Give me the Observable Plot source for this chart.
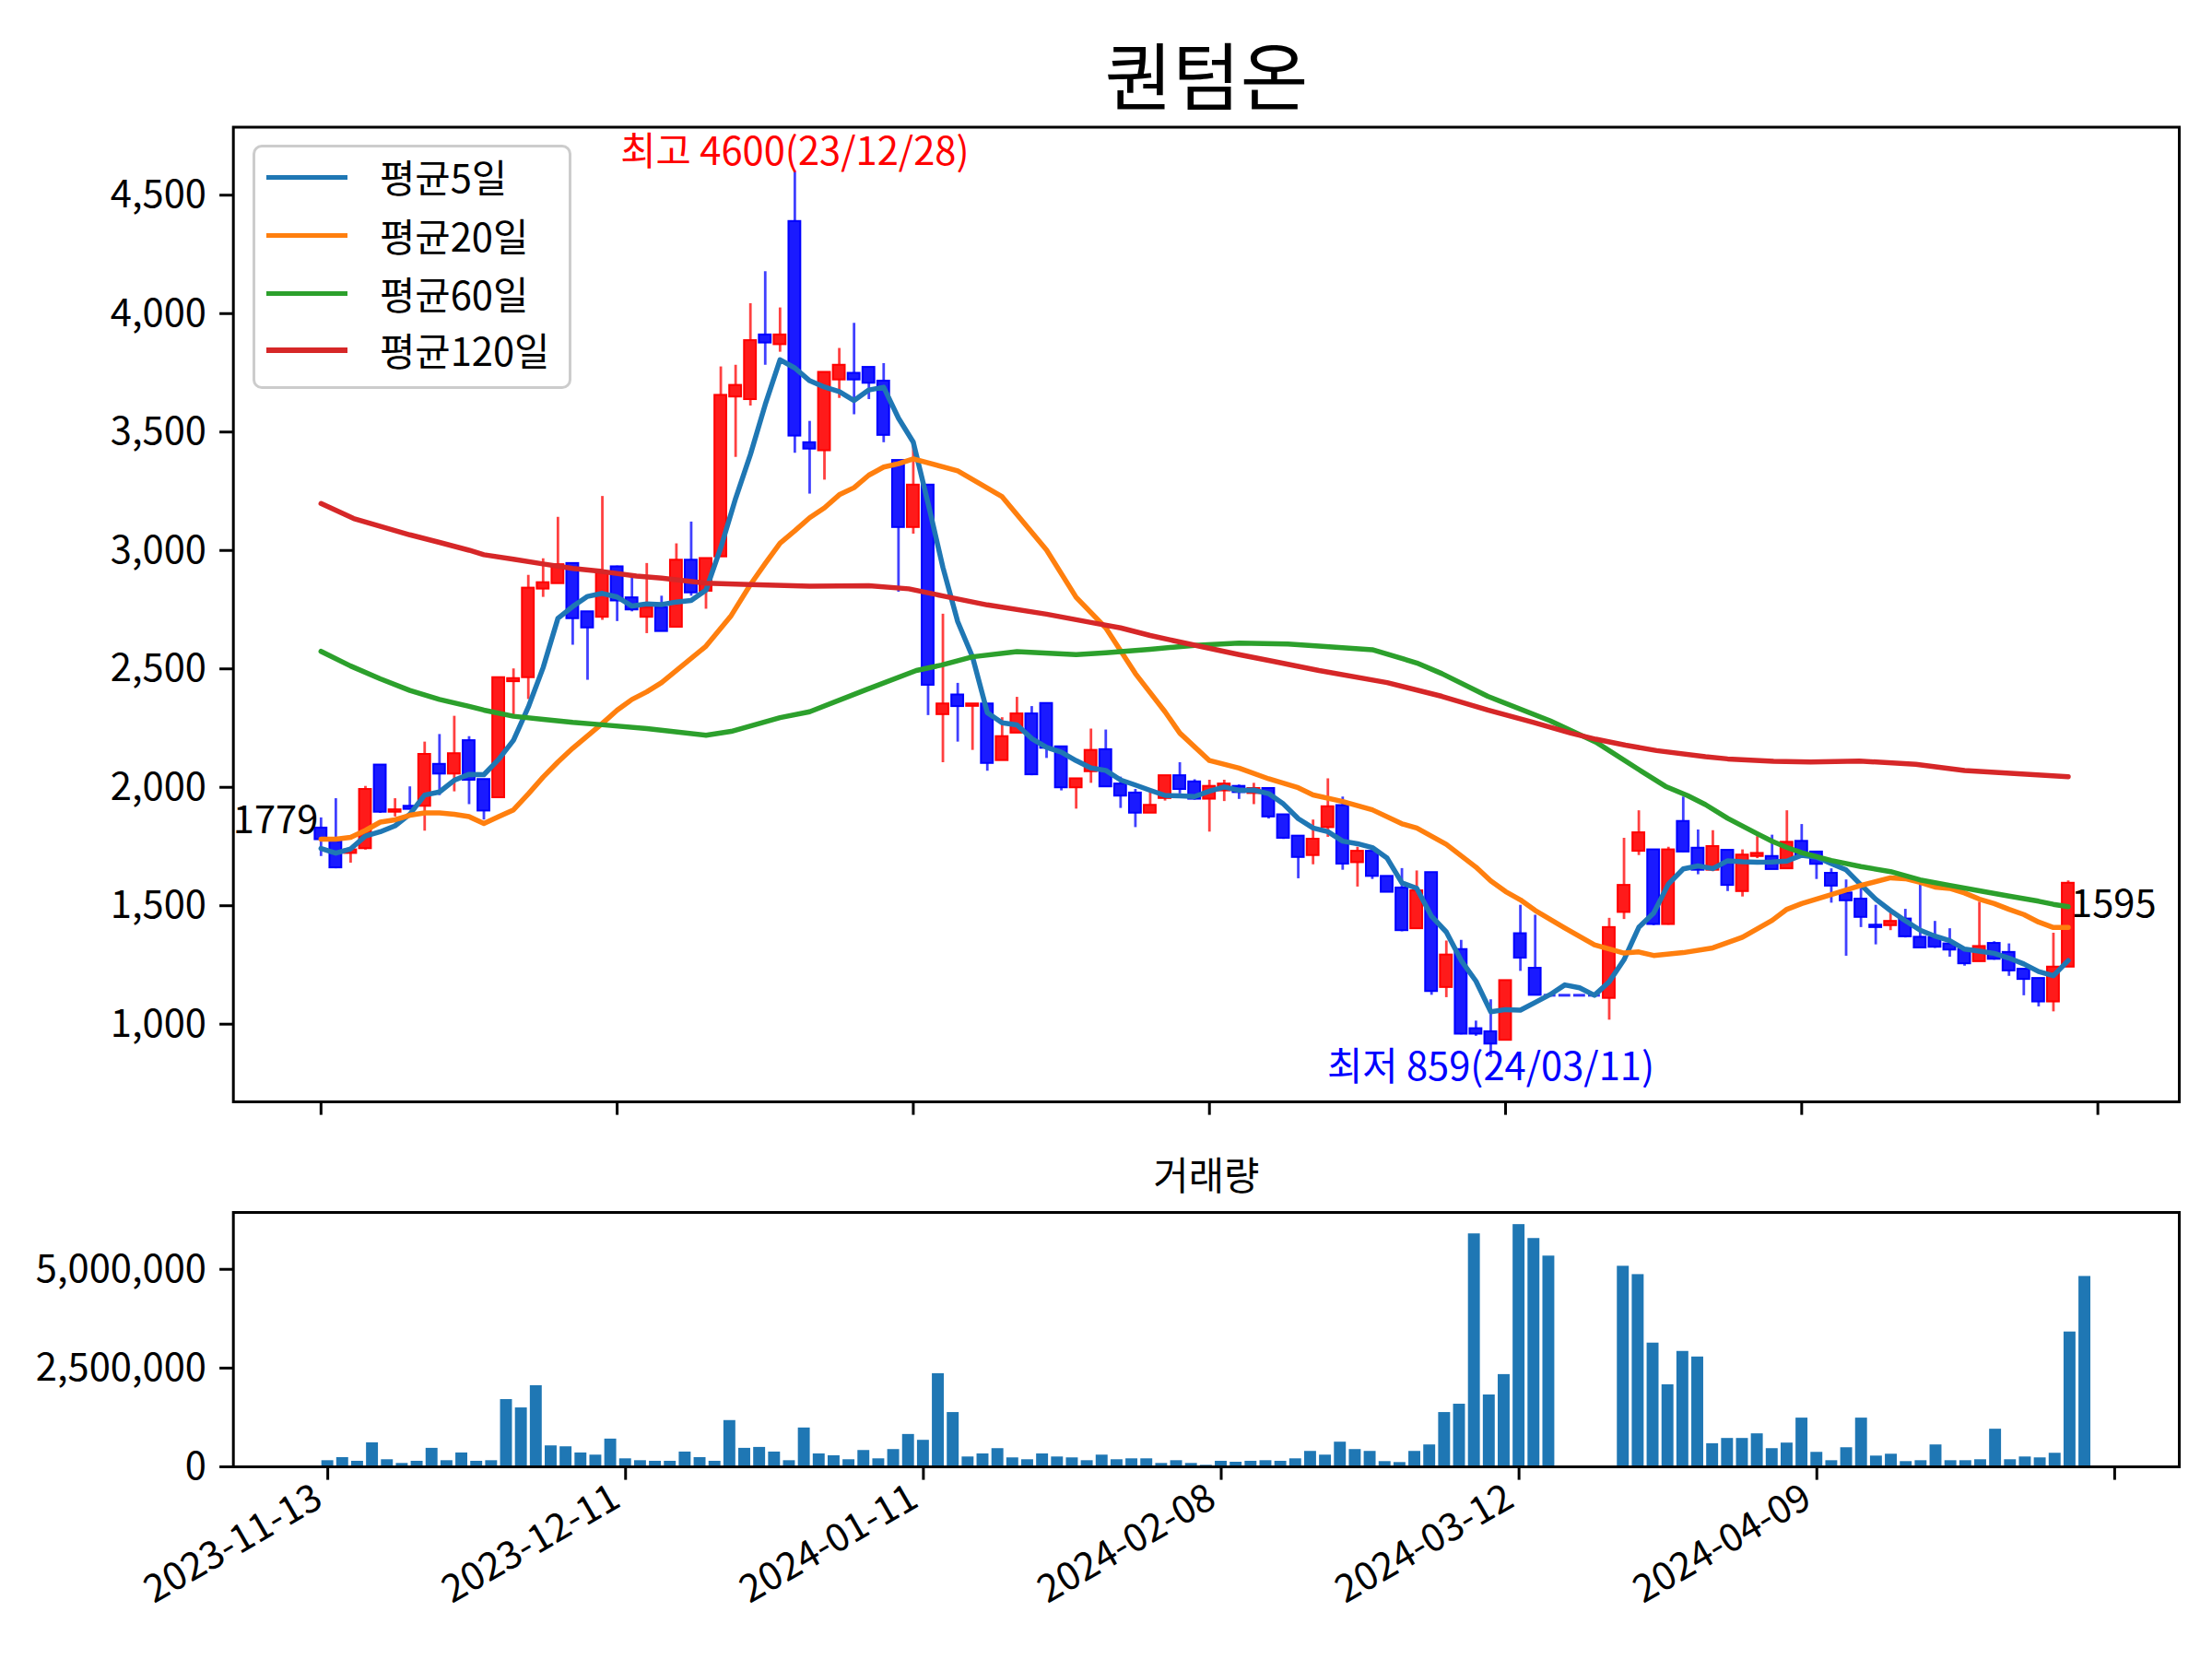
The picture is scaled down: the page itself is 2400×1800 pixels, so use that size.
<!DOCTYPE html>
<html>
<head>
<meta charset="utf-8">
<script src="https://cdn.jsdelivr.net/npm/d3@7"></script>
<script src="https://cdn.jsdelivr.net/npm/@observablehq/plot@0.6"></script>
<style>
  html, body { margin: 0; padding: 0; background: #ffffff; }
  #fig { position: relative; width: 2400px; height: 1800px; background: #ffffff; overflow: hidden;
         font-family: "Noto Sans CJK KR", "Noto Sans", sans-serif; }
  #fig svg { position: absolute; left: 0; max-width: none; }
  #legend { position: absolute; left: 274px; top: 157px; width: 346px; height: 265px; box-sizing: border-box;
            border: 3px solid #cccccc; border-radius: 10px; background: rgba(255,255,255,0.8); }
  .lg-row { position: absolute; left: 12px; height: 50px; display: flex; align-items: center; }
  .lg-line { width: 88px; height: 5.5px; }
  .lg-text { margin-left: 35px; font-size: 41.7px; line-height: 1; color: #000; white-space: nowrap; }
</style>
</head>
<body>
<div id="fig"></div>
<script>
// ---------------- data ----------------
const title = "퀀텀온";
const volumeTitle = "거래량";
const seriesNames = ["평균5일", "평균20일", "평균60일", "평균120일"];
const seriesColors = ["#1f77b4", "#ff7f0e", "#2ca02c", "#d62728"];
const xTicks = [0, 20, 40, 60, 80, 100, 120];
const xTickLabels = ["2023-11-13", "2023-12-11", "2024-01-11", "2024-02-08", "2024-03-12", "2024-04-09", ""];
const yTicks = [1000, 1500, 2000, 2500, 3000, 3500, 4000, 4500];
const volTicks = [0, 2500000, 5000000];
const maxLabel = "최고 4600(23/12/28)";
const minLabel = "최저 859(24/03/11)";

const open = [1828,1772,1721,1741,2094,1895,1920,1920,2097,2056, 2197,2033,1956,2446,2463,2837,2860,2945,2741,2718,
  2931,2800,2718,2759,2676,2959,2828,2973,3648,3637, 3910,3869,4389,3455,3421,3720,3748,3773,3715,3380,
  3097,3276,2307,2390,2342,2352,2113,2229,2310,2354, 2171,1998,2066,2159,2014,1976,1891,1953,2049,2023,
  1950,1985,2004,1974,1995,1884,1794,1712,1830,1923, 1682,1730,1624,1575,1403,1640,1155,1315,981,968,
  932,1382,1236,1122,1122,1122,1122,1109,1472,1730, 1736,1421,1856,1743,1650,1734,1560,1708,1708,1656,
  1772,1727,1637,1554,1528,1418,1416,1444,1367,1365, 1339,1315,1264,1341,1303,1232,1193,1094,1241];
const high = [1871,1952,1741,2004,2094,1952,2002,2191,2223,2300, 2214,2033,2463,2500,2895,2965,3140,2945,2741,3228,
  2934,2883,2945,2807,3028,3120,2966,3775,3782,4042, 4177,4024,4600,3545,3752,3853,3959,3773,3789,3380,
  3442,3276,2731,2439,2352,2352,2294,2380,2341,2354, 2171,2036,2246,2242,2043,1991,1978,2049,2104,2032,
  2030,2030,2010,2017,1995,1884,1794,1862,2036,1959, 1747,1730,1624,1657,1647,1640,1351,1354,1013,1103,
  1184,1502,1460,1122,1122,1122,1122,1447,1785,1901, 1736,1747,1959,1820,1817,1734,1736,1792,1798,1901,
  1843,1727,1656,1609,1573,1502,1470,1485,1605,1434, 1403,1315,1515,1348,1339,1232,1193,1384,1605];
const low = [1708,1656,1680,1735,1890,1875,1905,1815,1965,1981, 1927,1862,1956,2306,2371,2802,2860,2600,2452,2705,
  2700,2741,2649,2658,2676,2807,2752,2973,3393,3610, 3782,3837,3410,3238,3297,3642,3573,3637,3455,2824,
  3069,2303,2104,2191,2156,2068,2113,2229,2049,2122, 1985,1908,2017,2002,1911,1830,1891,1942,1972,1946,
  1811,1940,1949,1927,1866,1780,1614,1673,1789,1650, 1579,1611,1557,1390,1403,1122,1112,955,949,859,
  932,1223,1122,1122,1122,1122,1122,1017,1442,1712, 1416,1418,1725,1631,1644,1560,1537,1699,1653,1656,
  1705,1611,1511,1287,1408,1335,1395,1364,1322,1320, 1283,1245,1264,1270,1202,1120,1073,1052,1241];
const close = [1779,1660,1736,1991,1895,1905,1907,2139,2056,2142, 2030,1900,2463,2459,2841,2864,2940,2712,2673,2905,
  2787,2749,2759,2658,2959,2821,2966,3655,3697,3886, 3876,3910,3483,3428,3752,3782,3720,3706,3486,3097,
  3276,2431,2352,2341,2352,2101,2214,2310,2053,2165, 1998,2036,2156,2002,1963,1891,1924,2049,1991,1950,
  2004,2014,1978,1995,1875,1785,1704,1781,1918,1676, 1730,1624,1557,1395,1563,1138,1292,958,958,916,
  1184,1279,1122,1122,1122,1122,1122,1408,1586,1808, 1421,1736,1727,1650,1750,1586,1714,1721,1653,1768,
  1710,1675,1583,1521,1451,1408,1434,1369,1322,1325, 1313,1255,1328,1274,1225,1189,1094,1241,1595];
const volume = [156000,234000,141000,609000,180000,86000,141000,469000,156000,352000,
  141000,156000,1703000,1492000,2055000,531000,508000,352000,297000,703000,
  203000,156000,141000,141000,375000,234000,141000,1172000,469000,492000,
  375000,156000,984000,328000,281000,180000,414000,203000,438000,820000,
  672000,2359000,1375000,250000,328000,461000,227000,180000,328000,250000,
  227000,156000,297000,180000,203000,203000,86000,156000,86000,39000,
  141000,117000,141000,156000,141000,203000,391000,297000,625000,438000,
  391000,133000,109000,391000,555000,1375000,1586000,5898000,1820000,2336000,
  6133000,5781000,5336000,0,0,0,0,5078000,4867000,3133000,
  2078000,2922000,2781000,586000,719000,719000,836000,461000,602000,1234000,
  367000,156000,484000,1234000,273000,320000,133000,156000,555000,156000,
  156000,180000,953000,180000,250000,227000,344000,3414000,4820000];

// moving averages ([trading-day index, value])
const ma5Head = [1742, 1722, 1740, 1794];
const ma20 = [[0,1781],[1,1781],[2,1789],[3,1818],[4,1853],[5,1863],[6,1882],[7,1892],[8,1892],[9,1886],[10,1876],
  [11,1847],[12,1876],[13,1905],[14,1972],[15,2043],[16,2107],[17,2165],[18,2217],[19,2270],[20,2326],[21,2371],
  [22,2403],[23,2442],[26,2596],[27.7,2725],[29,2856],[30,2945],[31,3031],[32,3083],[33,3138],[34,3180],[35,3235],
  [36,3265],[37,3318],[38,3352],[39,3366],[40,3387],[43,3336],[46,3227],[49,3002],[51,2802],[53,2673],[55,2480],
  [57,2319],[58,2229],[60,2113],[62,2081],[64,2036],[66,1998],[67,1968],[69,1940],[71,1905],[73,1846],[74,1828],
  [76,1759],[78,1663],[79,1605],[80,1560],[81,1525],[82,1480],[84,1406],[86,1335],[88,1300],[89,1305],[90,1290],
  [92,1302],[94,1322],[96,1367],[98,1438],[99,1485],[100,1509],[102,1547],[104,1586],[106,1618],[107,1614],
  [108,1599],[109,1579],[110,1573],[111,1554],[112,1528],[113,1509],[114,1485],[115,1463],[116,1431],[117,1408],[118,1408]];
const ma60 = [[0,2574],[2,2512],[4,2458],[6,2409],[8,2371],[10,2342],[11,2326],[13,2300],[15,2287],[17,2274],
  [19,2264],[22,2248],[26,2220],[27.7,2236],[31,2294],[33,2319],[36.8,2412],[40.2,2493],[41.9,2516],[44,2551],
  [47,2573],[51,2560],[53,2568],[56,2583],[59,2599],[62,2609],[65.3,2605],[67.4,2596],[71,2581],[74,2525],
  [75.7,2480],[78.8,2384],[83,2281],[86.1,2191],[89,2075],[90.8,2004],[92.3,1965],[93.5,1927],[95,1869],
  [97,1804],[98,1772],[99,1746],[100,1724],[102,1691],[104,1665],[106,1644],[108,1609],[110,1586],[112,1563],
  [114,1541],[116,1519],[117,1506],[118,1496]];
const ma120 = [[0,3198],[2.2,3135],[6,3066],[8,3034],[10,3001],[11,2982],[13,2963],[15,2943],[17,2924],[19,2911],
  [21.3,2892],[23,2883],[26,2862],[29,2856],[33,2849],[37,2851],[39.7,2838],[42,2808],[45,2770],[49,2731],
  [52,2696],[54,2673],[56,2641],[59,2600],[62,2560],[64.3,2532],[67.4,2493],[72,2442],[75.7,2384],[78.8,2326],
  [81.9,2274],[84.4,2229],[86.1,2203],[88.1,2178],[90.2,2155],[93.5,2129],[95,2120],[98.1,2110],[100.6,2107],
  [103.9,2111],[107.7,2097],[111,2071],[114.1,2059],[118,2045]];

// ---------------- derived tables ----------------
const FONT = '"Noto Sans CJK KR", "Noto Sans", sans-serif';
const candles = close.map((c, i) => ({i, open: open[i], high: high[i], low: low[i], close: c, up: c > open[i]}));
const bodies = candles.filter(d => d.open !== d.close);
const flats = candles.filter(d => d.open === d.close);
const ma5 = close.map((c, i) => [i, i < 4 ? ma5Head[i] : d3.mean(close.slice(i - 4, i + 1))]);
const vols = volume.map((v, i) => ({i, v})).filter(d => d.v > 0);
const maxIdx = d3.maxIndex(high), minIdx = d3.minIndex(low);
const firstC = {i: 0, v: close[0], t: String(close[0])};
const lastC = {i: close.length - 1, v: close[close.length - 1], t: String(close[close.length - 1])};
const fmt = d3.format(",");

const bodyFill = d => d.up ? "#ff1a1a" : "#1a1aff";
const bodyEdge = d => d.up ? "#ff0000" : "#0000ff";
const wickCol = d => d.up ? "#ff4040" : "#4040ff";

const fig = document.getElementById("fig");

// ---------------- price panel ----------------
const priceSvg = Plot.plot({
  width: 2400, height: 1240,
  marginLeft: 252.7, marginRight: 36, marginTop: 137.5, marginBottom: 45,
  style: {fontSize: "41.7px", fontFamily: FONT, background: "transparent", color: "#000", overflow: "visible"},
  x: {domain: [-5.92, 125.5]},
  y: {domain: [672, 4787]},
  marks: [
    Plot.ruleX(candles, {x: "i", y1: "low", y2: "high", stroke: wickCol, strokeWidth: 2.8}),
    Plot.rect(bodies, {x1: d => d.i - 0.4, x2: d => d.i + 0.4, y1: "open", y2: "close",
      fill: bodyFill, stroke: bodyEdge, strokeWidth: 2}),
    Plot.ruleY(flats, {x1: d => d.i - 0.4, x2: d => d.i + 0.4, y: "close", stroke: "#3030ff", strokeWidth: 3}),
    Plot.line(ma5, {x: d => d[0], y: d => d[1], stroke: seriesColors[0], strokeWidth: 5.5}),
    Plot.line(ma20, {x: d => d[0], y: d => d[1], stroke: seriesColors[1], strokeWidth: 5.5}),
    Plot.line(ma60, {x: d => d[0], y: d => d[1], stroke: seriesColors[2], strokeWidth: 5.5}),
    Plot.line(ma120, {x: d => d[0], y: d => d[1], stroke: seriesColors[3], strokeWidth: 5.5}),
    Plot.text([{i: maxIdx, v: high[maxIdx]}], {x: "i", y: "v", text: () => maxLabel, fill: "#ff0000",
      textAnchor: "middle", lineAnchor: "bottom", dy: -7, fontSize: 41.7}),
    Plot.text([{i: minIdx, v: low[minIdx]}], {x: "i", y: "v", text: () => minLabel, fill: "#0000ff",
      textAnchor: "middle", lineAnchor: "bottom", dy: 25, fontSize: 41.7}),
    Plot.text([firstC], {x: "i", y: "v", text: "t", fill: "#000", textAnchor: "end", lineAnchor: "bottom",
      dx: -3, dy: -7.5, fontSize: 41.7}),
    Plot.text([lastC], {x: "i", y: "v", text: "t", fill: "#000", textAnchor: "start", lineAnchor: "bottom",
      dx: 3, dy: 37, fontSize: 41.7}),
    Plot.axisY({ticks: yTicks, tickFormat: fmt, tickSize: 14.6, tickPadding: 14.6, label: null, strokeWidth: 3, fontSize: 41.7}),
    Plot.axisX({ticks: xTicks, tickFormat: () => "", tickSize: 14.6, label: null, strokeWidth: 3}),
    Plot.frame({stroke: "#000", strokeWidth: 3}),
    Plot.text([title], {frameAnchor: "top", text: d => d, lineAnchor: "bottom", dy: -25, fontSize: 80, fill: "#000"})
  ]
});
priceSvg.style.top = "0px";
fig.appendChild(priceSvg);

// ---------------- volume panel ----------------
const volSvg = Plot.plot({
  width: 2400, height: 560,
  marginLeft: 252.7, marginRight: 36, marginTop: 75, marginBottom: 209,
  style: {fontSize: "41.7px", fontFamily: FONT, background: "transparent", color: "#000", overflow: "visible"},
  x: {domain: [-6.34, 124.34]},
  y: {domain: [0, 6440000]},
  marks: [
    Plot.rect(vols, {x1: d => d.i - 0.4, x2: d => d.i + 0.4, y1: () => 0, y2: "v", fill: "#1f77b4"}),
    Plot.axisY({ticks: volTicks, tickFormat: fmt, tickSize: 14.6, tickPadding: 14.6, label: null, strokeWidth: 3, fontSize: 41.7}),
    Plot.axisX({ticks: xTicks, tickFormat: () => "", tickSize: 14.6, label: null, strokeWidth: 3}),
    Plot.text(xTicks.map((t, j) => ({t, s: xTickLabels[j]})).filter(d => d.s), {
      x: "t", y: () => 0, text: "s", rotate: -30, textAnchor: "end", lineAnchor: "top",
      dx: -18, dy: 16, fontSize: 41.7, fill: "#000"}),
    Plot.frame({stroke: "#000", strokeWidth: 3}),
    Plot.text([volumeTitle], {frameAnchor: "top", text: d => d, lineAnchor: "bottom", dy: -25, fontSize: 41.7, fill: "#000"})
  ]
});
volSvg.style.top = "1240px";
fig.appendChild(volSvg);

// ---------------- legend ----------------
const legend = document.createElement("div");
legend.id = "legend";
const rowCenters = [192.3, 255.4, 318.5, 380];
seriesNames.forEach((name, k) => {
  const row = document.createElement("div");
  row.className = "lg-row";
  row.style.top = (rowCenters[k] - 157 - 3 - 25) + "px";
  const ln = document.createElement("div");
  ln.className = "lg-line";
  ln.style.background = seriesColors[k];
  const tx = document.createElement("div");
  tx.className = "lg-text";
  tx.textContent = name;
  row.appendChild(ln); row.appendChild(tx);
  legend.appendChild(row);
});
fig.appendChild(legend);
</script>
</body>
</html>
